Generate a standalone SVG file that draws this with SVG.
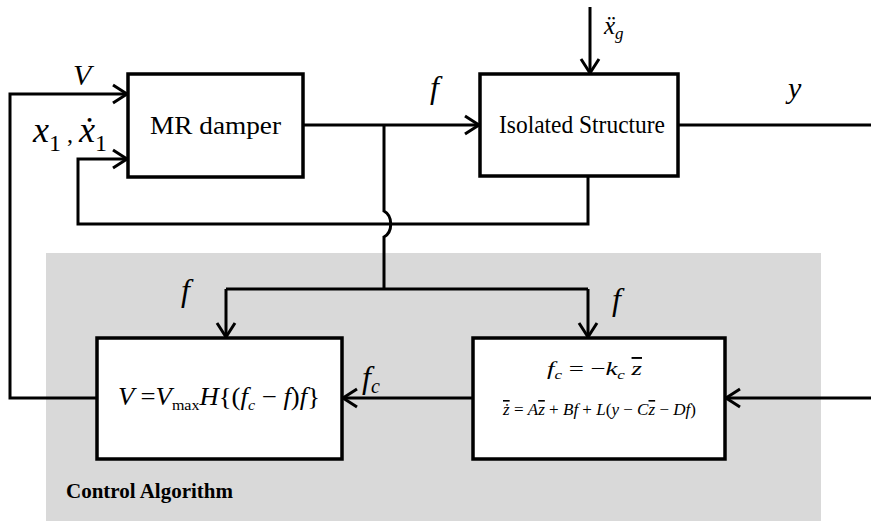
<svg xmlns="http://www.w3.org/2000/svg" width="871" height="524" viewBox="0 0 871 524">
<defs>
<style>
.box{fill:#fff;stroke:#000;stroke-width:3.5}
.ln{fill:none;stroke:#000;stroke-width:3}
text{font-family:'Liberation Serif','Times New Roman',serif;fill:#000}
.i{font-style:italic}
.n{font-style:normal}
.ov{text-decoration:overline}
</style>
<marker id="ar" viewBox="-16 -11 18 22" refX="0" refY="0" markerWidth="18" markerHeight="22" markerUnits="userSpaceOnUse" orient="auto">
<path d="M-14,-9 L0,0 L-14,9" fill="none" stroke="#000" stroke-width="3"/>
</marker>
</defs>
<rect x="46" y="253" width="775" height="268" fill="#d9d9d9"/>
<g id="connectors">
<path class="ln" d="M97,398 H10 V94 H127" marker-end="url(#ar)"/>
<path class="ln" d="M588,176 V224 H78 V159 H127" marker-end="url(#ar)"/>
<path class="ln" d="M303,125 H479" marker-end="url(#ar)"/>
<path class="ln" d="M678,125 H871"/>
<path class="ln" d="M590,7 V73" marker-end="url(#ar)"/>
<path class="ln" d="M384,125 V211 C393,216 393,232 384,237 V289"/>
<path class="ln" d="M226,289 H588"/>
<path class="ln" d="M226,289 V337" marker-end="url(#ar)"/>
<path class="ln" d="M588,289 V337" marker-end="url(#ar)"/>
<path class="ln" d="M473,398 H343" marker-end="url(#ar)"/>
<path class="ln" d="M871,398 H726" marker-end="url(#ar)"/>
</g>
<g id="mr-damper">
<rect class="box" x="128" y="74" width="175" height="103"/>
<text x="150" y="134" font-size="26" textLength="131" lengthAdjust="spacingAndGlyphs">MR damper</text>
</g>
<g id="isolated-structure">
<rect class="box" x="480" y="74" width="198" height="102"/>
<text x="499" y="133" font-size="26" textLength="166" lengthAdjust="spacingAndGlyphs">Isolated Structure</text>
</g>
<g id="switch">
<rect class="box" x="97" y="338" width="245" height="121"/>
<text class="i" x="118" y="405" font-size="25" textLength="202" lengthAdjust="spacingAndGlyphs">V <tspan class="n">=</tspan>V<tspan class="n" font-size="15" dy="5">max</tspan><tspan dy="-5">H</tspan><tspan class="n">{(</tspan>f<tspan font-size="15" dy="5">c</tspan><tspan class="n" dy="-5"> − </tspan>f<tspan class="n">)</tspan>f<tspan class="n">}</tspan></text>
</g>
<g id="observer">
<rect class="box" x="473" y="338" width="252" height="121"/>
<text class="i" x="547" y="375" font-size="19" textLength="95" lengthAdjust="spacingAndGlyphs">f<tspan font-size="12" dy="4">c</tspan><tspan class="n" dy="-4"> = −</tspan>k<tspan font-size="12" dy="4">c</tspan><tspan dy="-4"> </tspan><tspan class="ov">z</tspan></text>
<text class="i" x="503" y="415" font-size="16" textLength="193" lengthAdjust="spacingAndGlyphs"><tspan class="ov">ż</tspan><tspan class="n"> = </tspan>A<tspan class="ov">z</tspan><tspan class="n"> + </tspan>Bf<tspan class="n"> + </tspan>L<tspan class="n">(</tspan>y<tspan class="n"> − </tspan>C<tspan class="ov">z</tspan><tspan class="n"> − </tspan>Df<tspan class="n">)</tspan></text>
</g>
<g id="labels">
<text class="i" x="73" y="85" font-size="30">V</text>
<text class="i" x="33" y="142" font-size="36">x<tspan class="n" font-size="24" dy="9">1</tspan><tspan class="n" font-size="24" dy="-9"> , </tspan>ẋ<tspan class="n" font-size="24" dy="9">1</tspan></text>
<text class="i" x="604" y="34" font-size="25">ẍ<tspan font-size="17" dy="5">g</tspan></text>
<text class="i" x="430" y="98" font-size="32">f</text>
<text class="i" x="788" y="98" font-size="30">y</text>
<text class="i" x="181" y="301" font-size="32">f</text>
<text class="i" x="612" y="310" font-size="32">f</text>
<text class="i" x="362" y="388" font-size="32">f<tspan font-size="20" dy="5">c</tspan></text>
<text x="66" y="498" font-size="21" font-weight="bold">Control Algorithm</text>
</g>
</svg>
